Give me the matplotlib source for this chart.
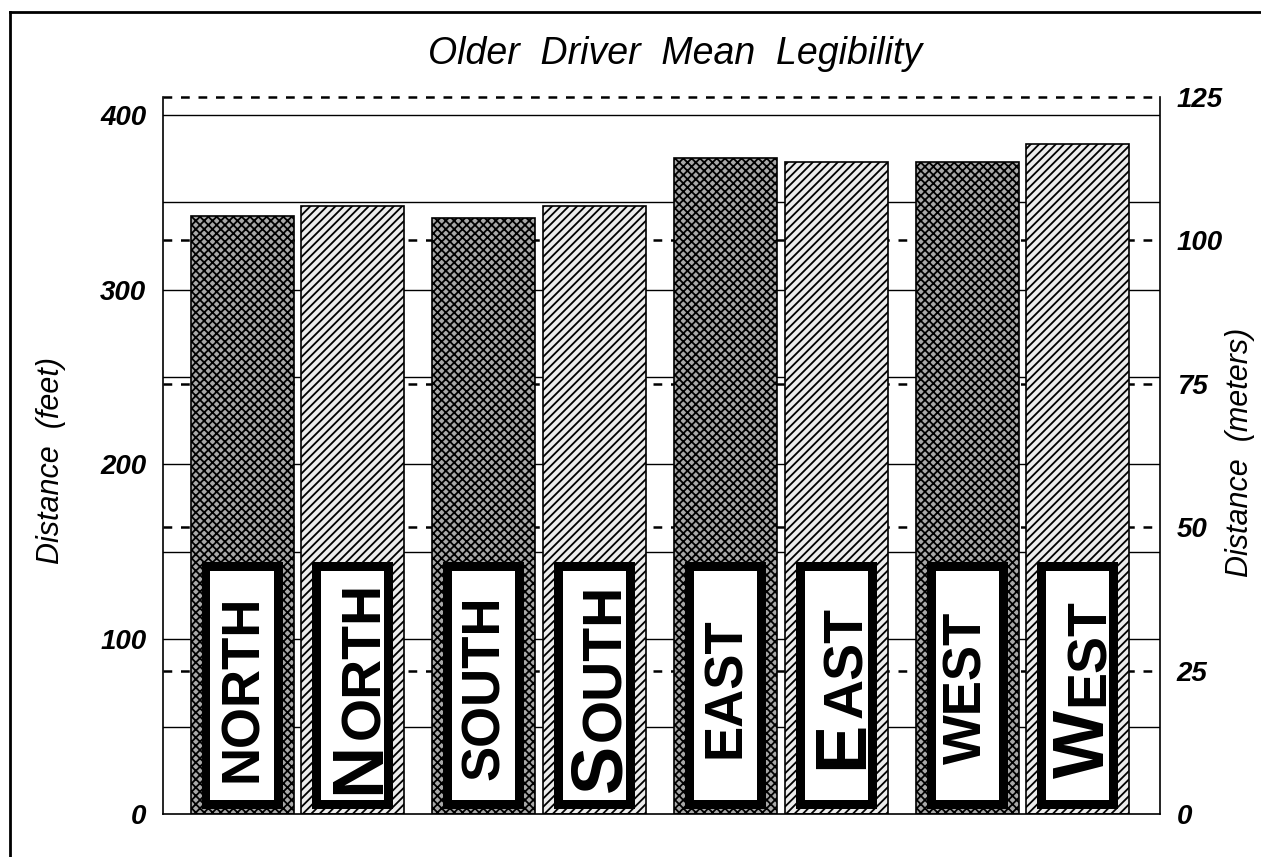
import numpy as np
import matplotlib
matplotlib.use("Agg")
import matplotlib.pyplot as plt
from matplotlib.patches import Rectangle
from matplotlib.lines import Line2D
from matplotlib.transforms import offset_copy

# ---------------- data ----------------
title = "Older  Driver  Mean  Legibility"
groups = ["NORTH", "SOUTH", "EAST", "WEST"]
caps_labels = ["NORTH", "SOUTH", "EAST", "WEST"]      # all upper-case signs (dark bars)
mixed_labels = ["NORTH", "SOUTH", "EAST", "WEST"]     # large-initial signs (light bars)
caps_ft = [342, 341, 375, 373]
mixed_ft = [348, 348, 373, 383]
left_ticks_ft = [0, 100, 200, 300, 400]
solid_grid_ft = [50, 100, 150, 200, 250, 300, 350, 400]
right_ticks_m = [0, 25, 50, 75, 100, 125]
FT_PER_M = 3.28084
ylabel_left = "Distance  (feet)"
ylabel_right = "Distance  (meters)"

# ---------------- style ----------------
plt.rcParams["font.family"] = ["Liberation Sans", "DejaVu Sans"]
plt.rcParams["hatch.linewidth"] = 1.3
plt.rcParams["hatch.color"] = "black"

W, H = 1261, 857
fig = plt.figure(figsize=(W / 100, H / 100), dpi=100)
fig.patch.set_facecolor("white")

ax_left, ax_right, ax_bot, ax_top = 163, 1160, 814, 97
ax = fig.add_axes([ax_left / W, 1 - ax_bot / H, (ax_right - ax_left) / W, (ax_bot - ax_top) / H])
ymax_ft = right_ticks_m[-1] * FT_PER_M
ax.set_ylim(0, ymax_ft)
ax.set_xlim(-0.556, 3.569)

x = np.arange(len(groups))
off = 0.229
bw = 0.426

# gridlines behind bars
for v in solid_grid_ft:
    ax.axhline(v, color="black", lw=1.0, zorder=0.5)
for m in right_ticks_m[1:]:
    ax.axhline(m * FT_PER_M, color="black", lw=1.8, ls=(0, (3.5, 3.5)), zorder=0.6, clip_on=False)

ax.bar(x - off, caps_ft, bw, color="#a8a8a8", edgecolor="black", hatch="xxxx", linewidth=1.2, zorder=2)
ax.bar(x + off, mixed_ft, bw, color="#ececec", edgecolor="black", hatch="////", linewidth=1.2, zorder=2)

# spines / ticks
ax.spines["top"].set_visible(False)
for s in ["left", "right", "bottom"]:
    ax.spines[s].set_linewidth(1.2)
ax.set_xticks([])
ax.set_yticks(left_ticks_ft)
ax.set_yticklabels([str(t) for t in left_ticks_ft], fontsize=20, fontstyle="italic", fontweight="bold")
ax.tick_params(axis="y", length=0, pad=12)

ax2 = ax.twinx()
ax2.set_ylim(0, right_ticks_m[-1])
ax2.set_yticks(right_ticks_m)
ax2.set_yticklabels([str(t) for t in right_ticks_m], fontsize=20, fontstyle="italic", fontweight="bold")
ax2.tick_params(axis="y", length=0, pad=12)
for s in ax2.spines.values():
    s.set_visible(False)

# ---------------- signs ----------------
sign_w = 0.335
border_x = 0.037
sign_bot, sign_top = 3.0, 144.0
border_y = 5.1
text_center = 72.0
caps_fs = 38
big_fs, small_fs = 52, 40

def draw_sign(xc):
    ax.add_patch(Rectangle((xc - sign_w / 2, sign_bot), sign_w, sign_top - sign_bot,
                           facecolor="black", edgecolor="none", zorder=3))
    ax.add_patch(Rectangle((xc - sign_w / 2 + border_x, sign_bot + border_y),
                           sign_w - 2 * border_x, sign_top - sign_bot - 2 * border_y,
                           facecolor="white", edgecolor="none", zorder=3.5))

for i, lab in enumerate(caps_labels):
    xc = x[i] - off
    draw_sign(xc)
    tr = offset_copy(ax.transData, fig=fig, x=0.716 * caps_fs / 2 - 3, y=0, units="points")
    ax.text(xc, text_center, lab, transform=tr, rotation=90, rotation_mode="anchor",
            ha="center", va="baseline", fontsize=caps_fs, fontweight="bold", zorder=5)

renderer = fig.canvas.get_renderer()
px_per_ft = ax.transData.transform((0, 1))[1] - ax.transData.transform((0, 0))[1]
gap_ft = 3.0 / px_per_ft

for i, lab in enumerate(mixed_labels):
    xc = x[i] + off
    draw_sign(xc)
    xb = xc + sign_w / 2 - border_x - 0.022
    t1 = ax.text(xb, 0, lab[0], rotation=90, rotation_mode="anchor", ha="left", va="baseline",
                 fontsize=big_fs, fontweight="bold", zorder=5)
    t2 = ax.text(xb, 0, lab[1:], rotation=90, rotation_mode="anchor", ha="left", va="baseline",
                 fontsize=small_fs, fontweight="bold", zorder=5)
    l1 = t1.get_window_extent(renderer).height / px_per_ft
    l2 = t2.get_window_extent(renderer).height / px_per_ft
    y0 = text_center - (l1 + gap_ft + l2) / 2
    t1.set_y(y0)
    t2.set_y(y0 + l1 + gap_ft)

# ---------------- texts ----------------
fig.text(675 / W, 1 - 64 / H, title, ha="center", va="baseline", fontsize=27, fontstyle="italic")
fig.text(51 / W, 1 - 460 / H, ylabel_left, rotation=90, ha="center", va="center",
         fontsize=22, fontstyle="italic")
fig.text(1240 / W, 1 - 452 / H, ylabel_right, rotation=90, ha="center", va="center",
         fontsize=22, fontstyle="italic")

# outer frame (top and left edges)
fig.add_artist(Line2D([10 / W, 10 / W], [0, 1 - 12 / H], transform=fig.transFigure, color="black", lw=2))
fig.add_artist(Line2D([10 / W, 1], [1 - 12 / H, 1 - 12 / H], transform=fig.transFigure, color="black", lw=2))

fig.savefig("out.png", dpi=100, facecolor="white")
